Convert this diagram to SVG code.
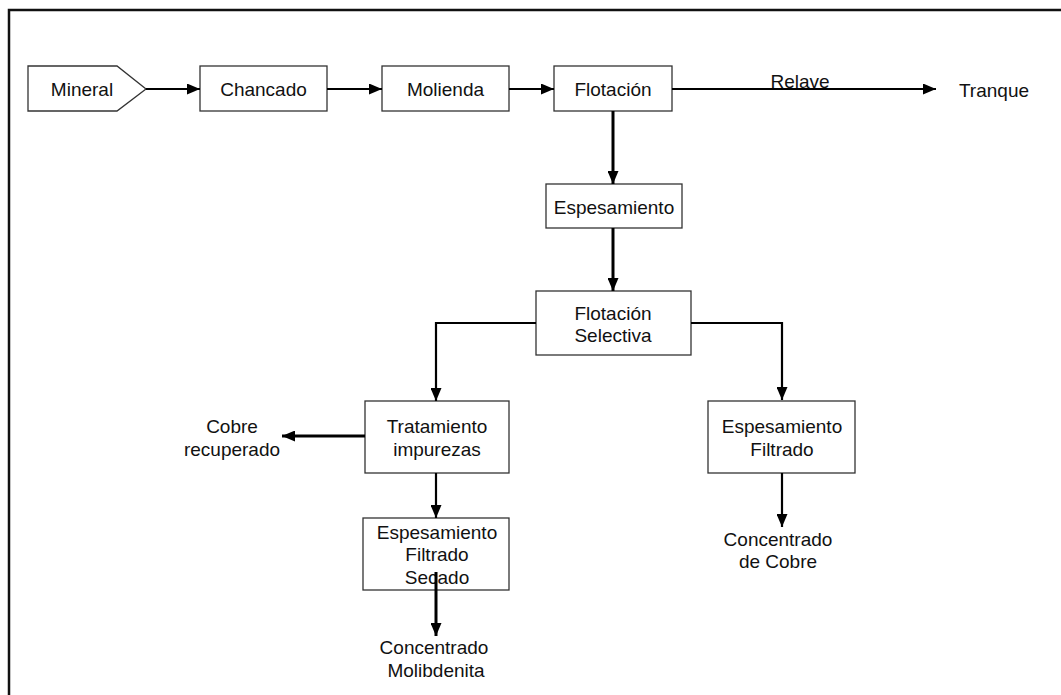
<svg xmlns="http://www.w3.org/2000/svg" width="1061" height="695" viewBox="0 0 1061 695">
<style>
  .box { fill: #ffffff; stroke: #333333; stroke-width: 1.3; }
  .t { font-family: "Liberation Sans", Arial, sans-serif; font-size: 19px; fill: #111111; text-anchor: middle; }
  .c { fill: none; stroke: #000000; stroke-width: 3; }
  .c2 { fill: none; stroke: #000000; stroke-width: 2.2; }
</style>
<defs>
  <marker id="ah" viewBox="0 0 13 11" refX="13" refY="5.5" markerWidth="13" markerHeight="11" markerUnits="userSpaceOnUse" orient="auto">
    <path d="M0,0 L13,5.5 L0,11 Z" fill="#000000"/>
  </marker>
</defs>
<rect width="1061" height="695" fill="#ffffff"/>
<path d="M9,700 L9,10 L1070,10" fill="none" stroke="#111111" stroke-width="2.5"/>

<g id="mineral">
  <polygon class="box" points="28,66 117,66 146,89 117,111 28,111"/>
  <text class="t" x="82" y="96">Mineral</text>
</g>
<g id="chancado">
  <rect class="box" x="200" y="66" width="127" height="45"/>
  <text class="t" x="263.5" y="96">Chancado</text>
</g>
<g id="molienda">
  <rect class="box" x="382" y="66" width="127" height="45"/>
  <text class="t" x="445.5" y="96">Molienda</text>
</g>
<g id="flotacion">
  <rect class="box" x="554" y="66" width="118" height="45"/>
  <text class="t" x="613" y="96">Flotación</text>
</g>
<g id="tranque">
  <text class="t" x="994" y="97">Tranque</text>
</g>
<g id="espesamiento">
  <rect class="box" x="546" y="184" width="136" height="44"/>
  <text class="t" x="614" y="214">Espesamiento</text>
</g>
<g id="flotacion-selectiva">
  <rect class="box" x="536" y="291" width="155" height="64"/>
  <text class="t" x="613" y="320">Flotación</text>
  <text class="t" x="613" y="342">Selectiva</text>
</g>
<g id="tratamiento">
  <rect class="box" x="365" y="401" width="144" height="72"/>
  <text class="t" x="437" y="433">Tratamiento</text>
  <text class="t" x="437" y="456">impurezas</text>
</g>
<g id="cobre-recuperado">
  <text class="t" x="232" y="433">Cobre</text>
  <text class="t" x="232" y="456">recuperado</text>
</g>
<g id="espesamiento-filtrado-secado">
  <rect class="box" x="363" y="518" width="146" height="72"/>
  <text class="t" x="437" y="539">Espesamiento</text>
  <text class="t" x="437" y="561">Filtrado</text>
  <text class="t" x="437" y="584">Secado</text>
</g>
<g id="concentrado-molibdenita">
  <text class="t" x="434" y="654">Concentrado</text>
  <text class="t" x="436" y="677">Molibdenita</text>
</g>
<g id="espesamiento-filtrado">
  <rect class="box" x="708" y="401" width="147" height="72"/>
  <text class="t" x="782" y="433">Espesamiento</text>
  <text class="t" x="782" y="456">Filtrado</text>
</g>
<g id="concentrado-cobre">
  <text class="t" x="778" y="546">Concentrado</text>
  <text class="t" x="778" y="568">de Cobre</text>
</g>

<g id="connectors">
  <line class="c2" x1="146" y1="89" x2="200" y2="89" marker-end="url(#ah)"/>
  <line class="c2" x1="327" y1="89" x2="382" y2="89" marker-end="url(#ah)"/>
  <line class="c2" x1="509" y1="89" x2="554" y2="89" marker-end="url(#ah)"/>
  <line class="c2" x1="672" y1="89" x2="936" y2="89" marker-end="url(#ah)"/>
  <line class="c" x1="613" y1="111" x2="613" y2="184" marker-end="url(#ah)"/>
  <line class="c" x1="613" y1="228" x2="613" y2="291" marker-end="url(#ah)"/>
  <polyline class="c2" points="536,323 436,323 436,401" marker-end="url(#ah)"/>
  <polyline class="c2" points="691,323 782,323 782,400" marker-end="url(#ah)"/>
  <line class="c" x1="365" y1="436" x2="282" y2="436" marker-end="url(#ah)"/>
  <line class="c2" x1="436" y1="473" x2="436" y2="518" marker-end="url(#ah)"/>
  <line class="c" x1="436" y1="572" x2="436" y2="636" marker-end="url(#ah)"/>
  <line class="c2" x1="782" y1="473" x2="782" y2="527" marker-end="url(#ah)"/>
  <text class="t" x="800" y="88">Relave</text>
</g>
</svg>
